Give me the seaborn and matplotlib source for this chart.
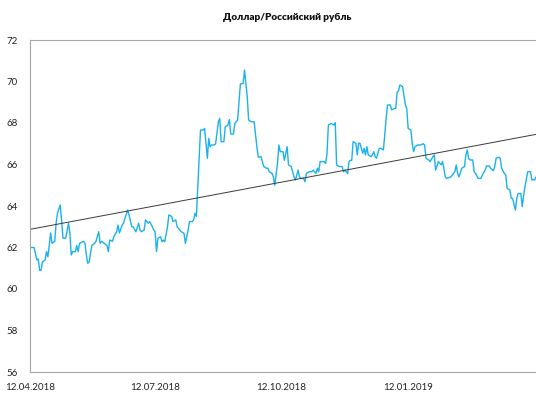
import matplotlib
matplotlib.use("Agg")
import numpy as np
import pandas as pd
import matplotlib.pyplot as plt
import matplotlib.dates as mdates
from matplotlib.ticker import FixedLocator, FixedFormatter
import seaborn as sns

title = "Доллар/Российский рубль"
start_date = "2018-04-12"

# Days since start_date and the USD/RUB close on that day
day_offsets = [
    0, 3, 5, 6, 7, 8, 9, 11, 12, 13, 14, 15, 16, 18, 19, 20, 22, 23, 24, 26,
    28, 29, 30, 31, 33, 34, 35, 36, 39, 40, 41, 42, 43, 45, 47, 48, 50, 51, 52, 54,
    56, 57, 58, 60, 61, 63, 64, 65, 67, 68, 69, 71, 72, 74, 75, 77, 79, 80, 81, 83,
    84, 86, 87, 89, 90, 91, 92, 93, 95, 96, 97, 98, 100, 101, 103, 104, 106, 107, 109, 110,
    112, 113, 115, 116, 118, 119, 120, 121, 124, 126, 127, 129, 130, 131, 132, 134, 135, 137, 138, 139,
    141, 142, 144, 145, 146, 148, 149, 151, 153, 155, 156, 158, 159, 161, 163, 165, 166, 168, 170, 172,
    173, 174, 176, 177, 178, 180, 181, 182, 184, 185, 187, 188, 190, 192, 193, 195, 196, 197, 199, 200,
    201, 203, 205, 206, 208, 209, 210, 211, 214, 215, 216, 217, 219, 221, 222, 223, 225, 227, 228, 229,
    231, 232, 233, 234, 235, 237, 238, 239, 240, 242, 243, 244, 245, 246, 248, 249, 250, 251, 252, 254,
    255, 257, 258, 259, 260, 262, 263, 265, 266, 267, 268, 269, 271, 273, 274, 275, 277, 278, 279, 280,
    282, 284, 286, 287, 288, 290, 291, 293, 294, 295, 297, 299, 300, 301, 302, 303, 306, 308, 309, 310,
    311, 312, 314, 316, 317, 318, 319, 320, 322, 323, 324, 326, 328, 329, 331, 332, 334, 335, 337, 338,
    339, 341, 342, 343, 345, 346, 347, 349, 350, 351, 353, 354, 355, 357, 358, 359, 360, 362, 364, 365,
    366, 367, 368,
]
usd_rub = [
    62.00, 62.00, 61.40, 61.45, 60.90, 60.90, 61.30, 61.40, 61.80, 61.55, 62.10, 62.70, 62.20, 62.30, 63.17, 63.65, 64.05, 63.30, 62.45, 62.45,
    63.17, 62.70, 61.64, 61.80, 61.80, 62.10, 61.80, 62.20, 62.30, 62.20, 61.64, 61.24, 61.30, 62.10, 62.20, 62.30, 62.76, 62.20, 62.30, 62.20,
    62.10, 61.80, 62.36, 62.30, 62.52, 62.76, 63.08, 62.70, 63.08, 63.17, 63.40, 63.80, 63.57, 63.00, 63.00, 62.76, 63.17, 62.84, 62.76, 62.84,
    63.33, 63.17, 63.25, 63.00, 62.84, 62.76, 61.80, 62.44, 62.52, 62.28, 62.36, 62.28, 63.00, 63.57, 63.50, 63.25, 63.33, 63.00, 62.84, 62.76,
    62.68, 62.20, 62.84, 63.25, 63.25, 63.33, 63.65, 63.50, 67.66, 67.66, 67.74, 66.30, 67.26, 66.86, 66.94, 66.94, 67.00, 68.06, 68.22, 67.10,
    67.10, 67.82, 67.90, 68.17, 67.47, 67.47, 67.98, 68.14, 69.88, 69.90, 70.55, 69.27, 68.14, 68.06, 68.06, 66.86, 66.35, 66.38, 65.90, 65.82,
    65.82, 65.65, 65.57, 65.40, 65.00, 66.05, 66.94, 66.62, 66.62, 66.20, 66.86, 65.98, 65.90, 65.40, 65.25, 65.73, 65.40, 65.33, 65.33, 65.17,
    65.57, 65.65, 65.65, 65.73, 65.57, 65.82, 65.65, 66.14, 66.14, 66.05, 66.54, 67.90, 67.98, 67.90, 68.02, 65.98, 65.90, 65.90, 65.65, 65.73,
    65.57, 66.14, 66.20, 66.20, 67.10, 67.02, 66.46, 67.02, 67.02, 66.54, 66.78, 66.46, 66.86, 66.46, 66.38, 66.46, 66.62, 66.38, 66.30, 66.78,
    66.78, 66.70, 67.42, 68.22, 68.87, 68.87, 68.63, 68.70, 68.70, 69.47, 69.55, 69.83, 69.75, 68.87, 68.70, 67.74, 67.66, 67.00, 66.62, 66.86,
    66.94, 66.94, 67.00, 66.94, 66.30, 66.22, 66.14, 66.38, 66.46, 65.73, 66.14, 65.98, 66.14, 65.82, 65.40, 65.33, 65.40, 65.57, 65.65, 65.98,
    65.57, 65.40, 65.82, 65.90, 66.46, 66.70, 66.30, 66.22, 66.22, 65.65, 65.57, 65.33, 65.33, 65.50, 65.73, 65.93, 65.93, 65.82, 65.70, 65.90,
    66.30, 66.35, 66.30, 65.82, 65.57, 65.50, 64.85, 64.77, 64.37, 64.37, 63.80, 64.37, 64.60, 64.60, 63.97, 64.53, 64.93, 65.65, 65.65, 65.25,
    65.28, 65.25, 65.40,
]

tick_dates = ["2018-04-12", "2018-07-12", "2018-10-12", "2019-01-12"]
tick_labels = ["12.04.2018", "12.07.2018", "12.10.2018", "12.01.2019"]
y_ticks = [56, 58, 60, 62, 64, 66, 68, 70, 72]

dates = pd.Timestamp(start_date) + pd.to_timedelta(day_offsets, unit="D")
df = pd.DataFrame({"x": mdates.date2num(dates.to_pydatetime()), "rate": usd_rub})

sns.set_style("white")
plt.rcParams["font.family"] = ["Lato", "DejaVu Sans"]

fig = plt.figure(figsize=(5.36, 3.94), dpi=100)
ax = fig.add_axes([30 / 536, 22 / 394, 506 / 536, 332 / 394])

# daily rate and its linear trend
sns.lineplot(data=df, x="x", y="rate", ax=ax, color="#1AB2EC", lw=1.0)
sns.regplot(data=df, x="x", y="rate", ax=ax, scatter=False, ci=None, truncate=True,
            line_kws=dict(color="#3a3a3a", lw=0.7))

ax.set_xlim(df["x"].iloc[0], df["x"].iloc[-1])
ax.set_ylim(y_ticks[0], y_ticks[-1])
ax.set_yticks(y_ticks)
ax.set_yticklabels([str(v) for v in y_ticks])
tick_pos = mdates.date2num(pd.to_datetime(tick_dates).to_pydatetime())
ax.xaxis.set_major_locator(FixedLocator(tick_pos))
ax.xaxis.set_major_formatter(FixedFormatter(tick_labels))
ax.set_xlabel("")
ax.set_ylabel("")

for side in ["left", "top", "bottom"]:
    ax.spines[side].set_color("#a6a6a6")
    ax.spines[side].set_linewidth(0.8)
ax.spines["right"].set_visible(False)

ax.tick_params(axis="y", length=0, pad=9, labelsize=7.0, labelcolor="#222222")
ax.tick_params(axis="x", length=3, width=0.6, color="#bfbfbf", direction="out",
               pad=5, labelsize=7.0, labelcolor="#222222")
ax.grid(False)

fig.text(287 / 536, 1 - 17 / 394, title, ha="center", va="center",
         fontsize=7.2, fontweight="heavy", color="#111111")

fig.savefig("out.png", dpi=100)
